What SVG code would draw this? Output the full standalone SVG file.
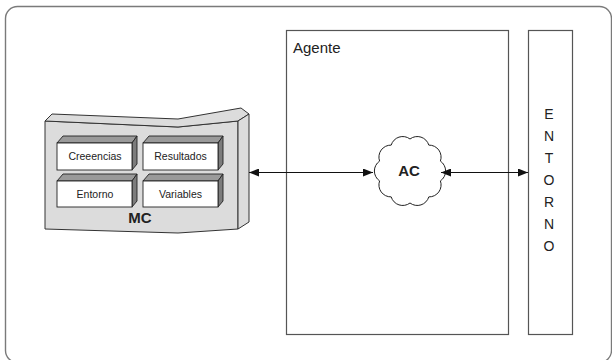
<svg xmlns="http://www.w3.org/2000/svg" width="612" height="360" viewBox="0 0 612 360">
  <style>
    .frame { fill: none; stroke: #7a7a7a; stroke-width: 1.4; }
    .box { fill: #ffffff; stroke: #555555; stroke-width: 1.2; }
    .slab { fill: #dcdcdc; stroke: #333333; stroke-width: 1; stroke-linejoin: round; }
    .front { fill: #ffffff; stroke: #222222; stroke-width: 0.9; }
    .top { fill: #9a9a9a; stroke: #222222; stroke-width: 0.9; }
    .side { fill: #7c7c7c; stroke: #222222; stroke-width: 0.9; }
    .lbl { font-family: "Liberation Sans", Arial, sans-serif; fill: #222222; }
    .small { font-size: 10.5px; text-anchor: middle; }
    .bold { font-size: 15px; font-weight: bold; text-anchor: middle; }
    .letter { font-size: 14px; text-anchor: middle; }
    .conn { stroke: #111111; stroke-width: 1.1; fill: none; marker-start: url(#arrow); marker-end: url(#arrow); }
  </style>
  <defs>
    <marker id="arrow" viewBox="0 0 10 8" refX="10" refY="4" markerWidth="10" markerHeight="8" markerUnits="userSpaceOnUse" orient="auto-start-reverse">
      <path d="M0,0 L10,4 L0,8 Z" fill="#111111"/>
    </marker>
  </defs>

  <!-- outer rounded frame, running past the right and bottom edges -->
  <rect class="frame" x="5.5" y="6.5" width="606" height="356" rx="12" ry="12"/>

  <!-- agent box -->
  <g id="agente">
    <rect class="box" x="286.5" y="30.5" width="222" height="304"/>
    <text class="lbl" x="293" y="53" font-size="15">Agente</text>
  </g>

  <!-- environment column -->
  <g id="entorno">
    <rect class="box" x="528.5" y="30.5" width="44" height="304"/>
    <text class="lbl letter" x="549" y="119">E</text>
    <text class="lbl letter" x="549" y="141">N</text>
    <text class="lbl letter" x="549" y="163">T</text>
    <text class="lbl letter" x="549" y="185">O</text>
    <text class="lbl letter" x="549" y="207">R</text>
    <text class="lbl letter" x="549" y="229">N</text>
    <text class="lbl letter" x="549" y="251">O</text>
  </g>

  <!-- MC slab with its four blocks -->
  <g id="mc">
    <path class="slab" d="M45,121 L178,127 L238,121 L238,229 L178,233 L45,229 Z"/>
    <path class="slab" d="M45,121 L52,114 L178,119 L241,108 L249,114 L238,121 L178,127 Z"/>
    <path class="slab" d="M238,121 L249,114 L249,222 L238,229 Z"/>

    <g id="creeencias">
      <path class="top" d="M57,143 L63,136 L137,136 L132,143 Z"/>
      <path class="side" d="M132,143 L137,136 L137,164 L132,170 Z"/>
      <rect class="front" x="57" y="143" width="75" height="27"/>
      <text class="lbl small" x="95" y="160">Creeencias</text>
    </g>
    <g id="resultados">
      <path class="top" d="M143,143 L149,136 L223,136 L218,143 Z"/>
      <path class="side" d="M218,143 L223,136 L223,164 L218,170 Z"/>
      <rect class="front" x="143" y="143" width="75" height="27"/>
      <text class="lbl small" x="180.5" y="160">Resultados</text>
    </g>
    <g id="entorno-mc">
      <path class="top" d="M57,181 L63,174 L137,174 L132,181 Z"/>
      <path class="side" d="M132,181 L137,174 L137,201 L132,207 Z"/>
      <rect class="front" x="57" y="181" width="75" height="26"/>
      <text class="lbl small" x="95" y="198">Entorno</text>
    </g>
    <g id="variables">
      <path class="top" d="M143,181 L149,174 L223,174 L218,181 Z"/>
      <path class="side" d="M218,181 L223,174 L223,201 L218,207 Z"/>
      <rect class="front" x="143" y="181" width="75" height="26"/>
      <text class="lbl small" x="180.5" y="198">Variables</text>
    </g>

    <text class="lbl bold" x="140" y="223">MC</text>
  </g>

  <!-- AC cloud -->
  <g id="ac">
    <path d="M410,139 A12,12 0 0 1 428.8,145.1 A12,12 0 0 1 440.4,161.1 A12,12 0 0 1 440.4,180.9 A12,12 0 0 1 428.8,196.9 A12,12 0 0 1 410,203 A12,12 0 0 1 391.2,196.9 A12,12 0 0 1 379.6,180.9 A12,12 0 0 1 379.6,161.1 A12,12 0 0 1 391.2,145.1 A12,12 0 0 1 410,139 Z" fill="#ffffff" stroke="#222222" stroke-width="1"/>
    <text class="lbl bold" x="409" y="176">AC</text>
  </g>

  <!-- connectors -->
  <g id="connectors">
    <line class="conn" x1="249" y1="172.5" x2="373" y2="172.5"/>
    <line class="conn" x1="441" y1="172.5" x2="528" y2="172.5"/>
  </g>
</svg>
